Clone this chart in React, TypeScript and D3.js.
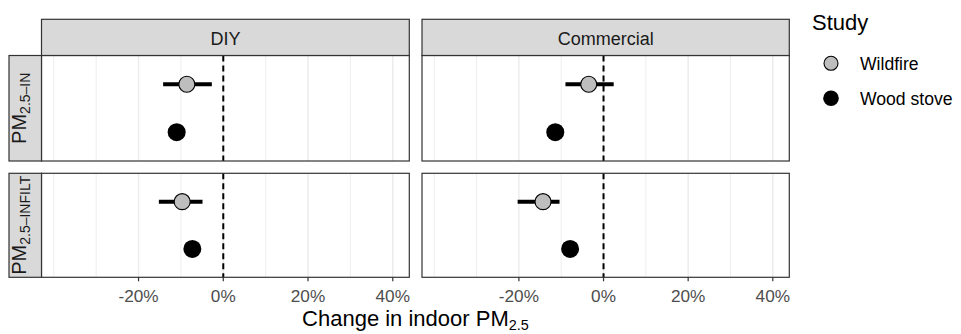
import React from "react";
import * as d3 from "d3";

// ---- data ----
const facetCols = ["DIY", "Commercial"];
const facetRows = ["IN", "INFILT"];
const studies = ["Wildfire", "Wood stove"];

// estimates in % change, per facetCol / facetRow / study
const estDIY_IN = [-8.6, -11.0];
const lowDIY_IN = [-14.2, null];
const highDIY_IN = [-2.7, null];

const estDIY_INFILT = [-9.7, -7.3];
const lowDIY_INFILT = [-15.2, null];
const highDIY_INFILT = [-4.9, null];

const estCOM_IN = [-3.5, -11.4];
const lowCOM_IN = [-9.0, null];
const highCOM_IN = [2.4, null];

const estCOM_INFILT = [-14.3, -7.9];
const lowCOM_INFILT = [-20.3, null];
const highCOM_INFILT = [-10.4, null];

const majorTicks = [-20, 0, 20, 40];
const minorTicks = [-40, -30, -10, 10, 30];
const xDomain = [-42.9, 43.9];

const cells = [
  { col: 0, row: 0, est: estDIY_IN, low: lowDIY_IN, high: highDIY_IN },
  { col: 0, row: 1, est: estDIY_INFILT, low: lowDIY_INFILT, high: highDIY_INFILT },
  { col: 1, row: 0, est: estCOM_IN, low: lowCOM_IN, high: highCOM_IN },
  { col: 1, row: 1, est: estCOM_INFILT, low: lowCOM_INFILT, high: highCOM_INFILT },
];

// ---- layout ----
const W = 961;
const H = 334;
const colX: [number, number][] = [
  [41.5, 409.3],
  [422, 789.3],
];
const rowY: [number, number][] = [
  [55.5, 161],
  [173.3, 277.3],
];
const stripTop = 19.3;
const stripLeft = 9;
const FONT = "'Liberation Sans', Arial, Helvetica, sans-serif";
const BORDER = "#333333";
const STRIP_FILL = "#d9d9d9";
const GRID = "#ebebeb";
const WILD_FILL = "#bebebe";

export default function App() {
  const xScales = colX.map((r) => d3.scaleLinear().domain(xDomain).range(r));
  const yScales = rowY.map((r) =>
    d3.scalePoint<string>().domain(studies).range(r).padding(0.6)
  );
  const pct = (v: number) => `${v}%`;
  const plotCenter = (colX[0][0] + colX[1][1]) / 2;

  return (
    <svg
      width={W}
      height={H}
      style={{ position: "absolute", left: 0, top: 0, background: "#fff" }}
      fontFamily={FONT}
    >
      <rect x={0} y={0} width={W} height={H} fill="#fff" />
      {/* panels */}
      {cells.map((c, i) => {
        const x = xScales[c.col];
        const y = yScales[c.row];
        const [x0, x1] = colX[c.col];
        const [y0, y1] = rowY[c.row];
        return (
          <g key={i}>
            <rect x={x0} y={y0} width={x1 - x0} height={y1 - y0} fill="#fff" />
            {minorTicks.map((t) => (
              <line key={"mi" + t} x1={x(t)} x2={x(t)} y1={y0} y2={y1} stroke={GRID} strokeWidth={0.9} />
            ))}
            {majorTicks.map((t) => (
              <line key={"ma" + t} x1={x(t)} x2={x(t)} y1={y0} y2={y1} stroke={GRID} strokeWidth={1.4} />
            ))}
            <line
              x1={x(0)}
              x2={x(0)}
              y1={y0}
              y2={y1}
              stroke="#000"
              strokeWidth={2}
              strokeDasharray="6,4"
            />
            {studies.map((s, k) => {
              const cy = y(s) as number;
              const lo = c.low[k];
              const hi = c.high[k];
              return (
                <g key={s}>
                  {lo !== null && hi !== null && (
                    <line x1={x(lo)} x2={x(hi)} y1={cy} y2={cy} stroke="#000" strokeWidth={4} />
                  )}
                  {k === 0 ? (
                    <circle cx={x(c.est[k])} cy={cy} r={8} fill={WILD_FILL} stroke="#000" strokeWidth={1.1} />
                  ) : (
                    <circle cx={x(c.est[k])} cy={cy} r={9} fill="#000" />
                  )}
                </g>
              );
            })}
            <rect
              x={x0}
              y={y0}
              width={x1 - x0}
              height={y1 - y0}
              fill="none"
              stroke={BORDER}
              strokeWidth={1.2}
            />
          </g>
        );
      })}

      {/* top strips */}
      {facetCols.map((name, j) => {
        const [x0, x1] = colX[j];
        return (
          <g key={name}>
            <rect
              x={x0}
              y={stripTop}
              width={x1 - x0}
              height={rowY[0][0] - stripTop}
              fill={STRIP_FILL}
              stroke={BORDER}
              strokeWidth={1.2}
            />
            <text x={(x0 + x1) / 2} y={44.5} textAnchor="middle" fontSize={18} fill="#1a1a1a">
              {name}
            </text>
          </g>
        );
      })}

      {/* left strips */}
      {facetRows.map((name, i) => {
        const [y0, y1] = rowY[i];
        const cx = (stripLeft + colX[0][0]) / 2;
        const cy = (y0 + y1) / 2;
        return (
          <g key={name}>
            <rect
              x={stripLeft}
              y={y0}
              width={colX[0][0] - stripLeft}
              height={y1 - y0}
              fill={STRIP_FILL}
              stroke={BORDER}
              strokeWidth={1.2}
            />
            <text
              transform={`translate(${cx},${cy}) rotate(-90)`}
              textAnchor="middle"
              fontSize={20}
              fill="#1a1a1a"
              y={1}
            >
              PM
              <tspan fontSize={14} dy={4}>
                {"2.5\u2013" + name}
              </tspan>
            </text>
          </g>
        );
      })}

      {/* x axes */}
      {colX.map((r, j) => {
        const x = xScales[j];
        const yb = rowY[1][1];
        return (
          <g key={"ax" + j}>
            {majorTicks.map((t) => (
              <g key={t}>
                <line x1={x(t)} x2={x(t)} y1={yb} y2={yb + 4} stroke={BORDER} strokeWidth={1.2} />
                <text x={x(t)} y={302} textAnchor="middle" fontSize={17.2} fill="#4d4d4d">
                  {pct(t)}
                </text>
              </g>
            ))}
          </g>
        );
      })}

      {/* x title */}
      <text x={plotCenter} y={326} textAnchor="middle" fontSize={22} fill="#000">
        Change in indoor PM
        <tspan fontSize={14.4} dy={4}>
          2.5
        </tspan>
      </text>

      {/* legend */}
      <text x={812} y={30} fontSize={22} fill="#000">
        Study
      </text>
      {studies.map((s, k) => {
        const cy = 63.3 + k * 35;
        return (
          <g key={"lg" + s}>
            {k === 0 ? (
              <circle cx={831} cy={cy} r={7} fill={WILD_FILL} stroke="#000" strokeWidth={1.1} />
            ) : (
              <circle cx={831} cy={cy} r={7.8} fill="#000" />
            )}
            <text x={860} y={cy + 6.4} fontSize={17.6} fill="#000">
              {s}
            </text>
          </g>
        );
      })}
    </svg>
  );
}
